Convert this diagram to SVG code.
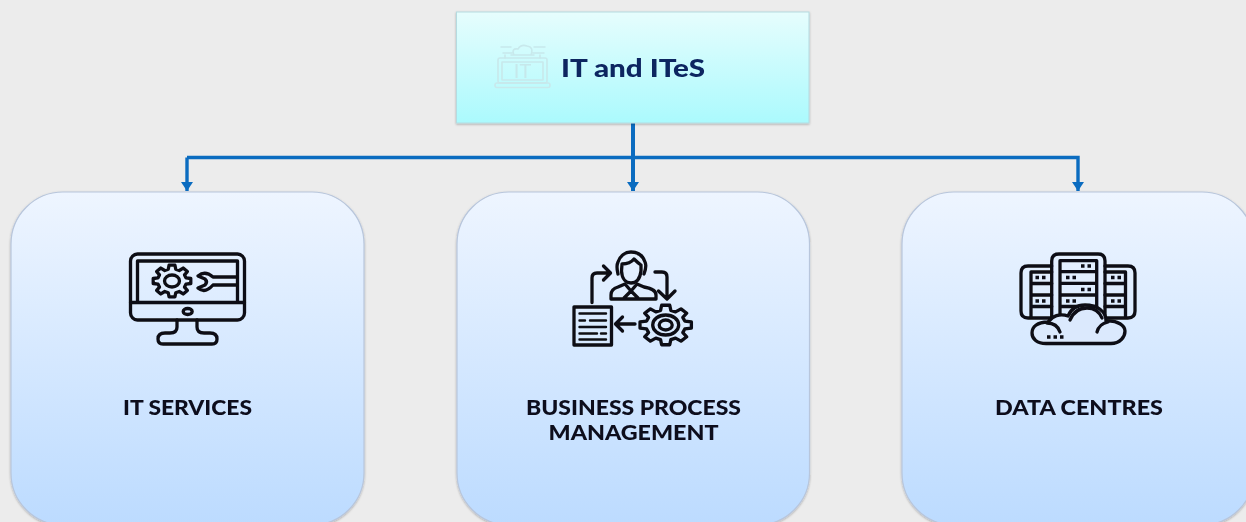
<svg xmlns="http://www.w3.org/2000/svg" width="1246" height="522" viewBox="0 0 1246 522">
<style>
.lbl{font-family:"Lato","Liberation Sans",sans-serif;font-weight:900;font-size:20px;fill:#0a0b1c;text-anchor:middle}
.card{fill:url(#cardFill);stroke:#b8c6dc;stroke-width:1.2;filter:url(#shadow)}
.ic{fill:none;stroke:#0c0d12;stroke-width:3.300;stroke-linecap:round;stroke-linejoin:round}
.conn{fill:none;stroke:#0b6cc0;stroke-width:3.400}
.faint{fill:none;stroke:#c8e9ec;stroke-width:1.6;stroke-linejoin:round;stroke-linecap:round}
</style>
<defs>
<linearGradient id="cardFill" x1="0" y1="0" x2="0" y2="1"><stop offset="0" stop-color="#eef5ff"/><stop offset="1" stop-color="#bcdbff"/></linearGradient>
<linearGradient id="topFill" x1="0" y1="0" x2="0" y2="1"><stop offset="0" stop-color="#e6fdfd"/><stop offset="1" stop-color="#abfafd"/></linearGradient>
<filter id="shadow" x="-5%" y="-5%" width="110%" height="110%"><feDropShadow dx="0" dy="1" stdDeviation="1.2" flood-color="#000" flood-opacity="0.28"/></filter>
<filter id="soft"><feGaussianBlur stdDeviation="0.45"/></filter>
<filter id="softText" x="-5%" y="-20%" width="110%" height="140%"><feGaussianBlur stdDeviation="0.3"/></filter>
<marker id="arrow" markerUnits="userSpaceOnUse" markerWidth="12" markerHeight="12" refX="9" refY="6" orient="auto"><path d="M0 0L9 6L0 12Z" fill="#0b6cc0"/></marker>
<path id="gear" vector-effect="non-scaling-stroke" d="M73.4-19.7L98.8-15.6L98.8 15.6L73.4 19.7L65.8 38L80.9 58.8L58.8 80.9L38 65.8L19.7 73.4L15.6 98.8L-15.6 98.8L-19.7 73.4L-38 65.8L-58.8 80.9L-80.9 58.8L-65.8 38L-73.4 19.7L-98.8 15.6L-98.8-15.6L-73.4-19.7L-65.8-38L-80.9-58.8L-58.8-80.9L-38-65.8L-19.7-73.4L-15.6-98.8L15.6-98.8L19.7-73.4L38-65.8L58.8-80.9L80.9-58.8L65.8-38Z"/>
</defs>
<rect width="1246" height="522" fill="#ececec"/>
<g id="connectors">
<path class="conn" d="M187 157.500H1078V191" marker-end="url(#arrow)"/>
<path class="conn" d="M187 157.500V191" marker-end="url(#arrow)"/>
<path class="conn" style="stroke-width:4" d="M633 123V191" marker-end="url(#arrow)"/>
</g>
<g id="node-it-ites">
<rect x="456.500" y="12" width="352.500" height="111" fill="url(#topFill)" stroke="#b5dbe0" stroke-width="1" filter="url(#shadow)"/>
<g class="faint" filter="url(#soft)">
<rect x="498" y="58" width="49" height="25" rx="2"/>
<rect x="502" y="62" width="41" height="18"/>
<rect x="495" y="83" width="55" height="4.500" rx="2"/>
<path d="M505 58V55M540 58V55M511 55H534M514 55Q511 48 518 49Q521 44 527 46Q534 47 531 55M501 47H511M534 47H545M503 53H512M533 53H544"/>
</g>
<text x="522.500" y="78" font-family="Lato,'Liberation Sans',sans-serif" font-size="20" font-weight="400" fill="#c6e8eb" text-anchor="middle" filter="url(#soft)">IT</text>
<text x="561" y="77" font-family="Lato,'Liberation Sans',sans-serif" font-weight="900" font-size="25" fill="#0b2561" textLength="144" lengthAdjust="spacingAndGlyphs" filter="url(#softText)">IT and ITeS</text>
</g>
<g id="node-it-services">
<rect class="card" x="11" y="192" width="353" height="333" rx="52"/>
<g class="ic" filter="url(#soft)">
<rect x="130.500" y="254" width="114" height="66" rx="7"/>
<path d="M137.500 302.500V261H237.500V302.500M130.500 302.500H244.500"/>
<ellipse cx="187.700" cy="311.500" rx="4.500" ry="3"/>
<path d="M177 320V327Q177 333 170 333H165Q158 333 158 339Q158 344 163 344H212Q217 344 217 339Q217 333 210 333H204Q197 333 197 327V320"/>
<use href="#gear" transform="translate(172 281) scale(.19 .16)"/>
<ellipse cx="172" cy="281" rx="7.500" ry="6"/>
<path d="M198 276Q205 270 213 277H236M236 285H213Q205 294 198 288M198 276L205 279Q208 282 205 285L198 288"/>
</g>
<text class="lbl" x="187.500" y="415" textLength="129" lengthAdjust="spacingAndGlyphs" filter="url(#softText)">IT SERVICES</text>
</g>
<g id="node-bpm">
<rect class="card" x="457" y="192" width="352.500" height="333" rx="52"/>
<g class="ic" filter="url(#soft)">
<path d="M618 274Q616 266 618 262C620 256 625 252 631 252C638 252 643 256 645 262Q647 266 644 274"/>
<path d="M622 264Q630 264 634 259Q638 263 641 265V271C640 279 636 283 631 283C626 283 622 279 621.500 271Z"/>
<path d="M611 299V295Q611 289 618 287L625 284L631 291L637 284L644 287Q656 289 656 295V299ZM631 291L624 298M631 291L638 298"/>
<path d="M592 302.500V278Q592 273 597 273H610M603.500 266L610.500 273L603.500 280"/>
<path d="M655 272H662Q667 272 667 277V298M658.500 291L667 299L675 291"/>
<rect x="574" y="307" width="37.500" height="38"/>
<path d="M579.500 313.500H606M579.500 320.500H585M590 320.500H606M579.500 327H606M579.500 333.500H597M601 333.500H606M579.500 339.500H606" style="stroke-width:2.400"/>
<path d="M615.500 324H635M622.500 317L615.500 324L622.500 331"/>
<use href="#gear" transform="translate(665.700 325) scale(.26 .2)"/>
<ellipse cx="665.700" cy="325" rx="13" ry="10"/>
<ellipse cx="665.700" cy="325" rx="6.500" ry="5"/>
</g>
<text class="lbl" x="633.500" y="415" textLength="215" lengthAdjust="spacingAndGlyphs" filter="url(#softText)">BUSINESS PROCESS</text>
<text class="lbl" x="633.500" y="439.500" textLength="170" lengthAdjust="spacingAndGlyphs" filter="url(#softText)">MANAGEMENT</text>
</g>
<g id="node-data-centres">
<rect class="card" x="902" y="192" width="352" height="333" rx="52"/>
<g class="ic" filter="url(#soft)">
<path d="M1051.700 318H1028Q1021 318 1021 311V273Q1021 266 1028 266H1051.700"/>
<path d="M1051.700 272H1031V317M1031 283.500H1051.700M1031 295H1051.700M1031 306.500H1051.700"/>
<path d="M1105 318H1128Q1135 318 1135 311V273Q1135 266 1128 266H1105"/>
<path d="M1105 272H1125.500V317M1105 283.500H1125.500M1105 295H1125.500M1105 306.500H1125.500"/>
<path d="M1051.700 318V261Q1051.700 254 1059 254H1098Q1105 254 1105 261V318"/>
<path d="M1060 316V260.700H1096.700V310M1060 271.700H1096.700M1060 283.300H1096.700M1060 295H1096.700M1060 306.500H1096.700"/>
<path d="M1035.500 277.500h10M1066 277.500h10M1111 277.500h10M1081 266h10M1081 289.500h10M1035.500 301h10M1066 301h10M1111 301h10" stroke-dasharray="3.500 3" stroke-linecap="butt"/>
<path d="M1046 343.500H1111C1120 343.500 1125 337 1125 331C1125 326 1118 320 1106 321C1106 311 1097 305 1085 305C1077 305 1071 309 1068 316C1060 313 1052 316 1048 322C1037 322 1032 327 1032 333C1032 339 1037 343.500 1046 343.500Z" fill="#dbe9fd"/>
<path d="M1047 323Q1057 323 1060 332M1070 320Q1075 308 1087 308Q1098 308 1102 318M1097 332Q1099 324 1108 322"/>
<path d="M1047 337h18" stroke-dasharray="3.500 3" stroke-linecap="butt"/>
</g>
<text class="lbl" x="1079" y="415" textLength="168" lengthAdjust="spacingAndGlyphs" filter="url(#softText)">DATA CENTRES</text>
</g>
</svg>
